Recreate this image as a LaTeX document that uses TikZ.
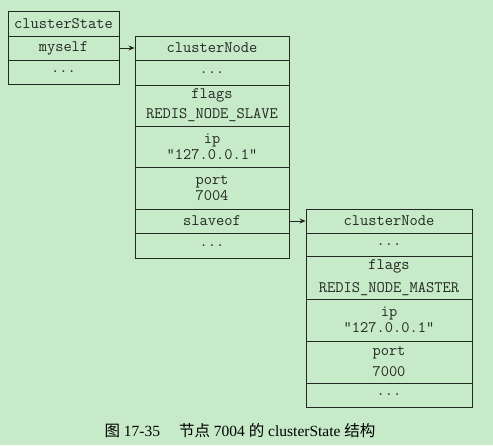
\documentclass[tikz,border=0pt]{standalone}
\usepackage{fontspec}
\setmainfont{Liberation Serif}
\newfontfamily\cjk{Noto Sans CJK SC}
\usetikzlibrary{arrows.meta}
\definecolor{bg}{RGB}{199,234,200}
\definecolor{ink}{RGB}{35,40,35}
\begin{document}
\begin{tikzpicture}[x=1pt,y=-1pt,
  cell/.style={draw=ink,line width=0.9pt,rectangle,inner sep=0pt,align=center,
    font=\fontsize{16}{16}\selectfont\ttfamily,text=ink},
  ptr/.style={draw=ink,line width=0.8pt,-{Stealth[length=6pt,width=5pt]}}]
\fill[bg] (0,0) rectangle (493,445);
\useasboundingbox (0,0) rectangle (493,445);
% clusterState
\node[cell,minimum width=111pt,minimum height=25pt] (cs1) at (63.5,23.5) {clusterState};
\node[cell,minimum width=111pt,minimum height=24pt] (cs2) at (63.5,48) {myself};
\node[cell,minimum width=111pt,minimum height=24pt] (cs3) at (63.5,72) {...};
% clusterNode 7004
\node[cell,minimum width=154pt,minimum height=24pt] (a1) at (212,48) {clusterNode};
\node[cell,minimum width=154pt,minimum height=25pt] (a2) at (212,72.5) {...};
\node[cell,minimum width=154pt,minimum height=41pt] (a3) at (212,105.5) {flags\\[4pt]REDIS\_NODE\_SLAVE};
\node[cell,minimum width=154pt,minimum height=41pt] (a4) at (212,146.5) {ip\\"127.0.0.1"};
\node[cell,minimum width=154pt,minimum height=42pt] (a5) at (212,188) {port\\7004};
\node[cell,minimum width=154pt,minimum height=24pt] (a6) at (212,221) {slaveof};
\node[cell,minimum width=154pt,minimum height=25pt] (a7) at (212,245.5) {...};
% clusterNode 7000
\node[cell,minimum width=166pt,minimum height=24pt] (b1) at (389,221) {clusterNode};
\node[cell,minimum width=166pt,minimum height=23pt] (b2) at (389,244.5) {...};
\node[cell,minimum width=166pt,minimum height=43pt] (b3) at (389,277.5) {flags\\[7pt]REDIS\_NODE\_MASTER};
\node[cell,minimum width=166pt,minimum height=42pt] (b4) at (389,320) {ip\\"127.0.0.1"};
\node[cell,minimum width=166pt,minimum height=42pt] (b5) at (389,362) {port\\[5pt]7000};
\node[cell,minimum width=166pt,minimum height=24pt] (b6) at (389,395) {...};
% pointers
\draw[ptr] (cs2.east) -- (a1.west);
\draw[ptr] (a6.east) -- (b1.west);
% caption
\node[text=black,font=\fontsize{15.5}{18}\selectfont,inner sep=0pt] (cap) at (240,431)
  {{\cjk 图}\ 17-35\hspace{19pt}{\cjk 节点}\ 7004\ {\cjk 的}\ clusterState\ {\cjk 结构}};
\end{tikzpicture}
\end{document}
